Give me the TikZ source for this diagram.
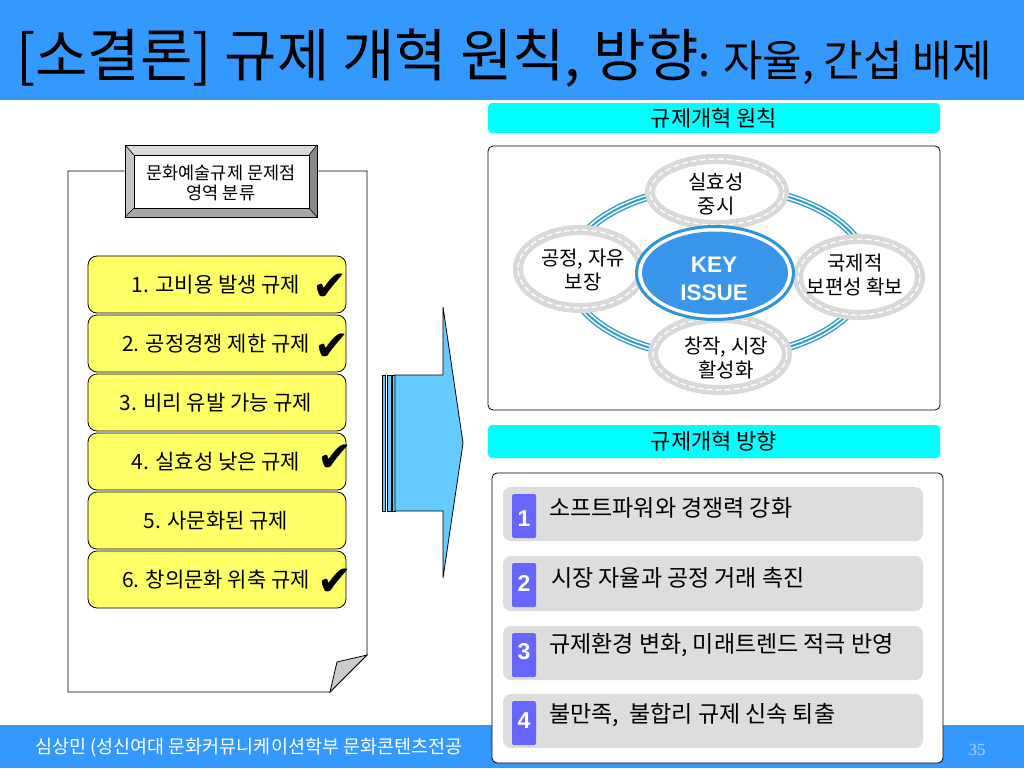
\documentclass[tikz,border=0pt]{standalone}
\usepackage{fontspec}
\setmainfont{Noto Sans CJK KR}
\newfontfamily\lat{Liberation Sans}
\newfontfamily\tms{Liberation Serif}
\newfontfamily\djv{DejaVu Sans}
\usetikzlibrary{shapes.geometric}
\definecolor{barblue}{RGB}{51,153,255}
\definecolor{cyanh}{RGB}{0,255,255}
\definecolor{ylw}{RGB}{255,255,102}
\definecolor{arrowblue}{RGB}{102,204,255}
\definecolor{ringteal}{RGB}{51,160,204}
\definecolor{rimgray}{RGB}{217,217,217}
\definecolor{keyblue}{RGB}{58,150,235}
\definecolor{keyring}{RGB}{45,150,215}
\definecolor{itemgray}{RGB}{221,221,221}
\definecolor{badge}{RGB}{102,102,255}
\definecolor{pagenum}{RGB}{170,210,250}
\definecolor{bvtop}{RGB}{218,218,218}
\definecolor{bvleft}{RGB}{196,196,196}
\definecolor{bvright}{RGB}{138,138,138}
\definecolor{bvbottom}{RGB}{166,166,166}
\begin{document}
\begin{tikzpicture}[x=1pt,y=-1pt,
  ybox/.style={draw=black, line width=0.8pt, fill=ylw, rounded corners=9pt, minimum width=258pt, minimum height=57pt, inner sep=0pt, font=\fontsize{21}{24}\selectfont},
  chk/.style={inner sep=0pt, font=\djv\fontsize{42}{42}\selectfont},
  hdr/.style={fill=cyanh, rounded corners=4pt, minimum width=452pt, inner sep=0pt, font=\fontsize{22}{26}\selectfont},
  rim/.style={draw=rimgray, fill=white, line width=10pt},
  rimdash/.style={draw=white, line width=1.3pt, dash pattern=on 6pt off 3pt},
  etxt/.style={inner sep=0pt, align=center, font=\fontsize{20}{24}\selectfont},
  item/.style={fill=itemgray, rounded corners=8pt, minimum width=420pt, inner sep=0pt},
  badgebox/.style={fill=badge, rounded corners=1.5pt, minimum width=24pt, inner sep=0pt},
  num/.style={inner sep=0pt, text=white, font=\lat\bfseries\fontsize{23}{26}\selectfont},
  itxt/.style={anchor=west, inner sep=0pt, font=\fontsize{23}{26}\selectfont},
  stripe/.style={fill=arrowblue, draw=black, line width=0.6pt}
]
\useasboundingbox (0,0) rectangle (1024,768);
\fill[white] (0,0) rectangle (1024,768);

% title bar
\fill[barblue] (0,0) rectangle (1024,100);
\node[anchor=base west, inner sep=0pt] (title) at (16,77)
  {\fontsize{57}{64}\selectfont [소결론] 규제 개혁 원칙, 방향\fontsize{43}{50}\selectfont: 자율, 간섭 배제};

% footer
\fill[barblue] (0,725) rectangle (1024,768);
\node[anchor=west, inner sep=0pt, text=white, font=\fontsize{18.5}{22}\selectfont] (foot) at (35,748)
  {심상민 (성신여대 문화커뮤니케이션학부 문화콘텐츠전공};
\node[inner sep=0pt, text=pagenum, font=\tms\fontsize{17}{20}\selectfont] (pg) at (977,750) {35};

% paper
\draw[fill=white, line width=0.8pt] (68,171) -- (367,171) -- (367,655) -- (330,692) -- (68,692) -- cycle;
\draw[fill=gray!40, line width=0.8pt] (367,655) -- (337,662) -- (330,692) -- cycle;

% bevel label
\fill[bvtop] (125,145) -- (317,145) -- (309,155) -- (134,155) -- cycle;
\fill[bvleft] (125,145) -- (134,155) -- (134,208) -- (125,217) -- cycle;
\fill[bvright] (317,145) -- (317,217) -- (309,208) -- (309,155) -- cycle;
\fill[bvbottom] (125,217) -- (317,217) -- (309,208) -- (134,208) -- cycle;
\draw[line width=0.8pt] (125,145) rectangle (317,217);
\draw[line width=0.6pt] (125,145) -- (134,155) (317,145) -- (309,155) (317,217) -- (309,208) (125,217) -- (134,208);
\draw[fill=white, line width=0.8pt] (134,155) rectangle (309,208);
\node[inner sep=0pt, align=center, font=\fontsize{17.5}{20}\selectfont] (cat) at (221,183) {문화예술규제 문제점\\영역 분류};

% yellow boxes
\node[ybox] (b1) at (217,284.5) {\hspace*{-2pt}1. 고비용 발생 규제};
\node[ybox] (b2) at (217,343.5) {\hspace*{-2pt}2. 공정경쟁 제한 규제};
\node[ybox] (b3) at (217,402.5) {\hspace*{-2pt}3. 비리 유발 가능 규제};
\node[ybox] (b4) at (217,461.5) {\hspace*{-2pt}4. 실효성 낮은 규제};
\node[ybox] (b5) at (217,520.5) {\hspace*{-2pt}5. 사문화된 규제};
\node[ybox] (b6) at (217,579.5) {\hspace*{-2pt}6. 창의문화 위축 규제};
\node[chk] (c1) at (330,287) {✔};
\node[chk] (c2) at (332,347) {✔};
\node[chk] (c4) at (335,458) {✔};
\node[chk] (c6) at (335,582) {✔};

% arrow
\draw[stripe] (382,375) rectangle (385.5,511);
\draw[stripe] (387.5,375) rectangle (391,511);
\draw[stripe] (392.5,375) rectangle (395,511);
\draw[fill=arrowblue, line width=0.8pt] (395,375) -- (443,375) -- (443,307) -- (463,443) -- (443,578) -- (443,511) -- (395,511) -- cycle;

% principles
\node[hdr, minimum height=30pt] (h1) at (714,118) {규제개혁 원칙};
\draw[line width=0.8pt, rounded corners=5pt] (488,146) rectangle (940,410);
\draw[ringteal, line width=8pt] (718,272) ellipse [x radius=150, y radius=85];
\draw[white, line width=5pt] (718,272) ellipse [x radius=150, y radius=85];
\draw[ringteal, line width=2pt] (718,272) ellipse [x radius=150, y radius=85];

\path[rim] (717,192) ellipse [x radius=67, y radius=33];
\draw[rimdash] (717,192) ellipse [x radius=67, y radius=33];
\path[rim] (580,269) ellipse [x radius=62, y radius=39];
\draw[rimdash] (580,269) ellipse [x radius=62, y radius=39];
\path[rim] (859,277) ellipse [x radius=61, y radius=38];
\draw[rimdash] (859,277) ellipse [x radius=61, y radius=38];
\path[rim] (720,354) ellipse [x radius=67, y radius=36];
\draw[rimdash] (720,354) ellipse [x radius=67, y radius=36];

\draw[keyring, fill=white, line width=3pt] (715,273) ellipse [x radius=78.5, y radius=46.5];
\fill[keyblue] (715,273) ellipse [x radius=73, y radius=41.5];

\node[etxt] (p1) at (716,194) {실효성\\중시};
\node[etxt] (p2) at (583,270) {공정, 자유\\보장};
\node[etxt] (p3) at (855,275) {국제적\\보편성 확보};
\node[etxt] (p4) at (726,358) {창작, 시장\\활성화};
\node[inner sep=0pt, align=center, text=white, font=\lat\bfseries\fontsize{22.5}{28}\selectfont] (key) at (714,279) {KEY\\ISSUE};

% directions
\node[hdr, minimum height=33pt] (h2) at (714,441.5) {규제개혁 방향};
\draw[fill=white, line width=0.8pt, rounded corners=5pt] (492,473) rectangle (943,763);

\node[item, minimum height=54pt] (i1) at (713,514) {};
\node[item, minimum height=55pt] (i2) at (713,583.5) {};
\node[item, minimum height=54pt] (i3) at (713,653) {};
\node[item, minimum height=54pt] (i4) at (713,721) {};

\node[badgebox, minimum height=44pt] (n1) at (524,516) {};
\node[badgebox, minimum height=44pt] (n2) at (524,585) {};
\node[badgebox, minimum height=44pt] (n3) at (524,655) {};
\node[badgebox, minimum height=44pt] (n4) at (524,723) {};
\node[num] (d1) at (524,519) {1};
\node[num] (d2) at (524,583) {2};
\node[num] (d3) at (524,652) {3};
\node[num] (d4) at (524,721) {4};

\node[itxt] (t1) at (549,508) {소프트파워와 경쟁력 강화};
\node[itxt] (t2) at (551,578) {시장 자율과 공정 거래 촉진};
\node[itxt] (t3) at (549,645) {규제환경 변화, 미래트렌드 적극 반영};
\node[itxt] (t4) at (549,715) {불만족,\ \ 불합리 규제 신속 퇴출};
\end{tikzpicture}
\end{document}
